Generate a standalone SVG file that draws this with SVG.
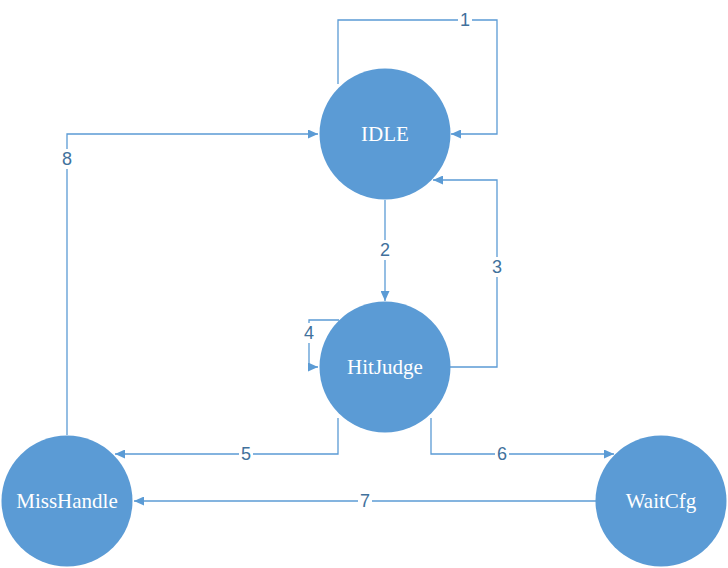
<svg xmlns="http://www.w3.org/2000/svg" width="728" height="568" viewBox="0 0 728 568">
<defs>
<marker id="arr" viewBox="0 0 10 10" refX="10" refY="5" markerWidth="10" markerHeight="9" markerUnits="userSpaceOnUse" orient="auto" preserveAspectRatio="none">
<path d="M0,0 L10,5 L0,10 z" fill="#5B9BD5"/>
</marker>
<style>
.node{fill:#5B9BD5;}
.nt{font-family:"Liberation Serif",serif;font-size:21px;fill:#ffffff;text-anchor:middle;dominant-baseline:central;}
.edge{fill:none;stroke:#5B9BD5;stroke-width:1.3;marker-end:url(#arr);}
.lbg{fill:#ffffff;}
.lt{font-family:"Liberation Sans",sans-serif;font-size:18px;fill:#41719C;text-anchor:middle;dominant-baseline:central;}
</style>
</defs>
<rect width="728" height="568" fill="#ffffff"/>
<g id="connectors">
<path class="edge" d="M338,84 V20 H497 V134 H451"/>
<path class="edge" d="M67,435 V134 H318"/>
<path class="edge" d="M385,200 V301"/>
<path class="edge" d="M450,367 H497 V180 H433"/>
<path class="edge" d="M339,320 H309 V367 H318"/>
<path class="edge" d="M338,418 V454 H115"/>
<path class="edge" d="M431,418 V454 H614"/>
<path class="edge" d="M596,501 H134"/>
<rect class="lbg" x="458" y="10" width="14" height="20"/>
<text class="lt" x="465" y="20">1</text>
<rect class="lbg" x="378" y="240" width="14" height="20"/>
<text class="lt" x="385" y="250">2</text>
<rect class="lbg" x="490" y="257" width="14" height="20"/>
<text class="lt" x="497" y="267">3</text>
<rect class="lbg" x="302" y="323" width="14" height="20"/>
<text class="lt" x="309" y="333">4</text>
<rect class="lbg" x="239" y="444" width="14" height="20"/>
<text class="lt" x="246" y="454">5</text>
<rect class="lbg" x="495" y="444" width="14" height="20"/>
<text class="lt" x="502" y="454">6</text>
<rect class="lbg" x="358" y="491" width="14" height="20"/>
<text class="lt" x="365" y="501">7</text>
<rect class="lbg" x="60" y="149" width="14" height="20"/>
<text class="lt" x="67" y="159">8</text>
</g>
<g id="IDLE">
<circle class="node" cx="385" cy="134" r="65.5"/>
<text class="nt" x="385" y="134">IDLE</text>
</g>
<g id="HitJudge">
<circle class="node" cx="385" cy="367" r="65.5"/>
<text class="nt" x="385" y="367">HitJudge</text>
</g>
<g id="MissHandle">
<circle class="node" cx="67" cy="501" r="65.5"/>
<text class="nt" x="67" y="501">MissHandle</text>
</g>
<g id="WaitCfg">
<circle class="node" cx="661" cy="501" r="65.5"/>
<text class="nt" x="661" y="501">WaitCfg</text>
</g>
</svg>
